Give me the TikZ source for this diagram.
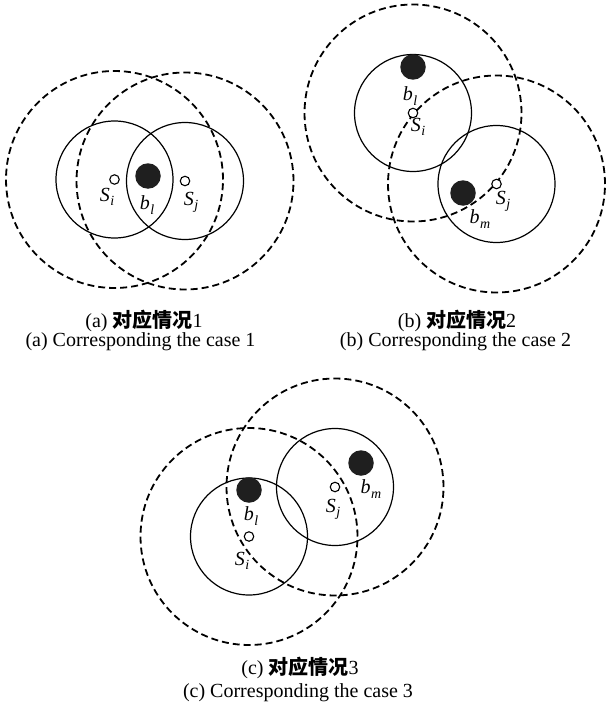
\documentclass[tikz,border=0pt]{standalone}
\usepackage{fontspec}
\setmainfont{Liberation Serif}
\newfontfamily\cjk{Noto Sans CJK SC}
\newcommand\lbl[2]{\textit{#1}\kern0.5pt\raisebox{-0.45ex}{\fontsize{14}{14}\selectfont\textit{#2}}}
\begin{document}
\begin{tikzpicture}[x=1pt,y=-1pt,
  ring/.style={line width=1.2pt},
  zone/.style={line width=1.8pt, dash pattern=on 7pt off 4pt},
  sensor/.style={circle, draw, line width=1.1pt, fill=white, inner sep=0pt, minimum size=9.5pt},
  beacon/.style={circle, fill=black!88, inner sep=0pt, minimum size=25.5pt},
  lab/.style={font=\fontsize{20}{22}\selectfont, inner sep=0pt},
  captext/.style={font=\fontsize{20}{24}\selectfont, inner sep=0pt}]
\useasboundingbox (0,0) rectangle (606,706);
\fill[white] (0,0) rectangle (606,706);

% ---------- panel (a)
\coordinate (aSi) at (114.5,179.5);
\coordinate (aSj) at (185,181);
\draw[zone] (aSi) circle[radius=108.5pt];
\draw[zone] (aSj) circle[radius=108.5pt];
\draw[ring] (aSi) circle[radius=58.5pt];
\draw[ring] (aSj) circle[radius=58.5pt];
\node[beacon] (abl) at (148,176) {};
\node[sensor] (asi) at (aSi) {};
\node[sensor] (asj) at (aSj) {};
\node[lab] (asiL) at (107,197) {\lbl{S}{i}};
\node[lab] (ablL) at (147,205) {\lbl{b}{l}};
\node[lab] (asjL) at (191,202) {\lbl{S}{j}};
\node[captext] (acn) at (144,321) {(a) {\cjk\bfseries 对应情况}1};
\node[captext] (aen) at (140.5,342) {(a) Corresponding the case 1};

% ---------- panel (b)
\coordinate (bSi) at (413,113);
\coordinate (bSj) at (496.5,184);
\draw[zone] (bSi) circle[radius=108.5pt];
\draw[zone] (bSj) circle[radius=108.5pt];
\draw[ring] (bSi) circle[radius=58.5pt];
\draw[ring] (bSj) circle[radius=58.5pt];
\node[beacon] (bbl) at (413,67) {};
\node[beacon] (bbm) at (463,193) {};
\node[sensor] (bsi) at (bSi) {};
\node[sensor] (bsj) at (bSj) {};
\node[lab] (bblL) at (410,96) {\lbl{b}{l}};
\node[lab] (bsiL) at (418,127) {\lbl{S}{i}};
\node[lab] (bsjL) at (503,201) {\lbl{S}{j}};
\node[lab] (bbmL) at (480,219) {\lbl{b}{m}};
\node[captext] (bcn) at (457,321) {(b) {\cjk\bfseries 对应情况}2};
\node[captext] (ben) at (455.5,342) {(b) Corresponding the case 2};

% ---------- panel (c)
\coordinate (cSi) at (249,536.5);
\coordinate (cSj) at (335,487);
\draw[zone] (cSi) circle[radius=108.5pt];
\draw[zone] (cSj) circle[radius=108.5pt];
\draw[ring] (cSi) circle[radius=58.5pt];
\draw[ring] (cSj) circle[radius=58.5pt];
\node[beacon] (cbl) at (249,490) {};
\node[beacon] (cbm) at (361,463) {};
\node[sensor] (csi) at (cSi) {};
\node[sensor] (csj) at (cSj) {};
\node[lab] (cblL) at (251,516) {\lbl{b}{l}};
\node[lab] (csiL) at (242,561) {\lbl{S}{i}};
\node[lab] (csjL) at (333,509) {\lbl{S}{j}};
\node[lab] (cbmL) at (371,489) {\lbl{b}{m}};
\node[captext] (ccn) at (300,668) {(c) {\cjk\bfseries 对应情况}3};
\node[captext] (cen) at (298,693) {(c) Corresponding the case 3};
\end{tikzpicture}
\end{document}
